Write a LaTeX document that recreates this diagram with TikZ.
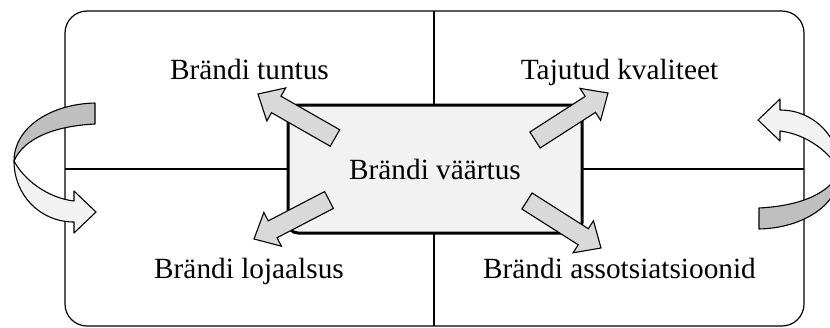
\documentclass[tikz,border=0pt]{standalone}
\usepackage{fontspec}
\setmainfont{Liberation Serif}
\usetikzlibrary{calc}
\definecolor{arrgray}{HTML}{D9D9D9}
\definecolor{backgray}{HTML}{BFBFBF}
\definecolor{frontfill}{HTML}{F2F2F2}
\definecolor{boxfill}{HTML}{F2F2F2}
\newcommand\myblockarrow[3]{%
  \coordinate (#3) at ($(#2)!21pt!(#1)$);
  \draw[blk] ($(#1)!9.5pt!90:(#2)$) -- ($(#3)!9.5pt!90:(#2)$) -- ($(#3)!19pt!90:(#2)$) -- (#2)
    -- ($(#3)!19pt!-90:(#2)$) -- ($(#3)!9.5pt!-90:(#2)$) -- ($(#1)!9.5pt!-90:(#2)$) -- cycle;}
\newcommand\mycurvedarrow{%
  \draw[curveline,fill=backgray] (95,103) .. controls (50,104) and (14,128) .. (14,161)
    .. controls (24,138) and (55,126) .. (95,124) -- cycle;
  \draw[curveline,fill=frontfill] (14,161) .. controls (24,180) and (48,198) .. (74,201)
    -- (74,191) -- (96,212) -- (74,233) -- (74,222)
    .. controls (40,222) and (14,195) .. (14,161) -- cycle;}
\begin{document}
\begin{tikzpicture}[x=1pt,y=-1pt,
  lbl/.style={anchor=base,inner sep=0pt,font=\fontsize{29.3}{35}\selectfont},
  blk/.style={draw=black,line width=1.1pt,fill=arrgray,line join=miter},
  curveline/.style={draw=black,line width=1.1pt,line join=round},
  frame/.style={draw=black,line width=1.2pt},
  centerbox/.style={draw=black,line width=3pt,rounded corners=10pt,fill=boxfill,
    minimum width=294pt,minimum height=128pt,inner sep=0pt,
    font=\fontsize{29.3}{35}\selectfont}]
\useasboundingbox (0,0) rectangle (830,327);
% outer frame
\draw[frame,rounded corners=22pt] (65,11) rectangle (804,326);
\coordinate (top) at (434,11);
\coordinate (bot) at (434,326);
\coordinate (lft) at (65,169);
\coordinate (rgt) at (804,169);
\draw[frame] (top) -- (bot);
\draw[frame] (lft) -- (rgt);
% curved arrows
\begin{scope}
  \mycurvedarrow
\end{scope}
\begin{scope}[rotate around={180:(427,166)}]
  \mycurvedarrow
\end{scope}
% centre box
\node[centerbox] (box) at (435,169) {Brändi väärtus};
% labels
\node[lbl] (tl) at (249.5,79) {Brändi tuntus};
\node[lbl] (tr) at (619.5,79) {Tajutud kvaliteet};
\node[lbl] (bl) at (249,278) {Brändi lojaalsus};
\node[lbl] (br) at (619.5,278) {Brändi assotsiatsioonid};
% block arrows
\coordinate (ult) at (335,138); \coordinate (ulp) at (258,94);
\coordinate (urt) at (535,140); \coordinate (urp) at (608,93);
\coordinate (llt) at (329,200); \coordinate (llp) at (254,239);
\coordinate (lrt) at (527,201); \coordinate (lrp) at (601,248);
\myblockarrow{ult}{ulp}{ulh}
\myblockarrow{urt}{urp}{urh}
\myblockarrow{llt}{llp}{llh}
\myblockarrow{lrt}{lrp}{lrh}
\end{tikzpicture}
\end{document}
